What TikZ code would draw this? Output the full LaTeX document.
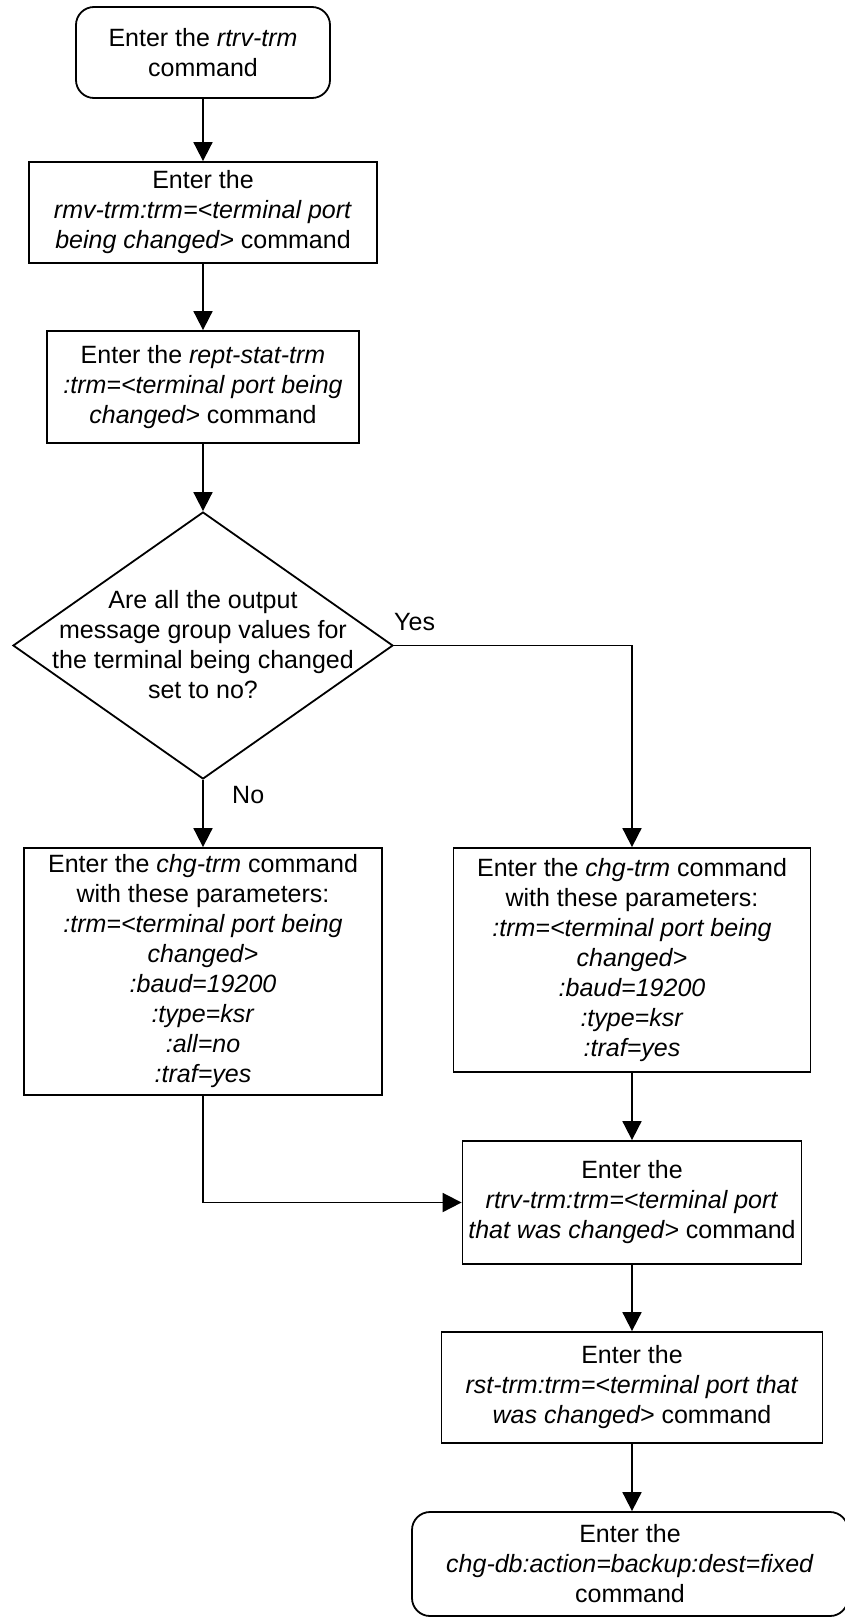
\documentclass[tikz,border=0pt]{standalone}
\usepackage{fontspec}
\setmainfont{Liberation Sans}
\usetikzlibrary{shapes.geometric,arrows.meta}
\tikzset{
  every node/.style={font=\fontsize{25}{30}\selectfont},
  procbox/.style={draw, line width=1.8pt, rectangle, align=center, inner sep=0pt},
  termbox/.style={draw, line width=1.8pt, rectangle, rounded corners=18pt, align=center, inner sep=0pt},
  decbox/.style={draw, line width=1.8pt, diamond, inner sep=0pt},
  flow/.style={line width=1.8pt, -{Triangle[width=19pt,length=19pt]}},
  lbl/.style={inner sep=0pt, anchor=west}
}
\begin{document}
\begin{tikzpicture}[x=1pt,y=-1pt]
\useasboundingbox (0,0) rectangle (845,1617);
\clip (0,0) rectangle (845,1617);

\node[termbox, minimum width=254pt, minimum height=91pt] (start) at (203,52.5)
  {Enter the \textit{rtrv-trm}\\command};
\node[procbox, minimum width=348pt, minimum height=101pt] (rmv) at (203,212.5)
  {Enter the\\\textit{rmv-trm:trm=<terminal port}\\\textit{being changed>} command};
\node[procbox, minimum width=312pt, minimum height=112pt] (rept) at (203,387)
  {Enter the \textit{rept-stat-trm}\\\textit{:trm=<terminal port being}\\\textit{changed>} command};
\node[decbox, minimum width=380pt, minimum height=267pt] (dec) at (203,645.5) {};
\node[align=center, inner sep=0pt] (dectext) at (203,645)
  {Are all the output\\message group values for\\the terminal being changed\\set to no?};
\node[procbox, minimum width=358pt, minimum height=247pt] (chgA) at (203,971.5)
  {Enter the \textit{chg-trm} command\\with these parameters:\\\textit{:trm=<terminal port being}\\\textit{changed>}\\\textit{:baud=19200}\\\textit{:type=ksr}\\\textit{:all=no}\\\textit{:traf=yes}};
\node[procbox, minimum width=357pt, minimum height=224pt] (chgB) at (632,960)
  {Enter the \textit{chg-trm} command\\with these parameters:\\\textit{:trm=<terminal port being}\\\textit{changed>}\\\textit{:baud=19200}\\\textit{:type=ksr}\\\textit{:traf=yes}};
\node[procbox, minimum width=339pt, minimum height=123pt] (rtrv) at (632,1202.5)
  {Enter the\\\textit{rtrv-trm:trm=<terminal port}\\\textit{that was changed>} command};
\node[procbox, minimum width=381pt, minimum height=111pt] (rst) at (632,1387.5)
  {Enter the\\\textit{rst-trm:trm=<terminal port that}\\\textit{was changed>} command};
\node[termbox, minimum width=436pt, minimum height=104pt] (fin) at (630,1564)
  {Enter the\\\textit{chg-db:action=backup:dest=fixed}\\command};

\node[lbl] (yes) at (394,622) {Yes};
\node[lbl] (no) at (232,795) {No};

\draw[flow] (start) -- (rmv);
\draw[flow] (rmv) -- (rept);
\draw[flow] (rept) -- (dec);
\draw[flow] (dec.south) -- (chgA.north);
\draw[flow] (dec.east) -| (chgB.north);
\draw[flow] (chgB) -- (rtrv);
\draw[flow] (chgA.south) |- (rtrv.west);
\draw[flow] (rtrv) -- (rst);
\draw[flow] (rst.south) -- (rst.south |- fin.north);
\end{tikzpicture}
\end{document}
